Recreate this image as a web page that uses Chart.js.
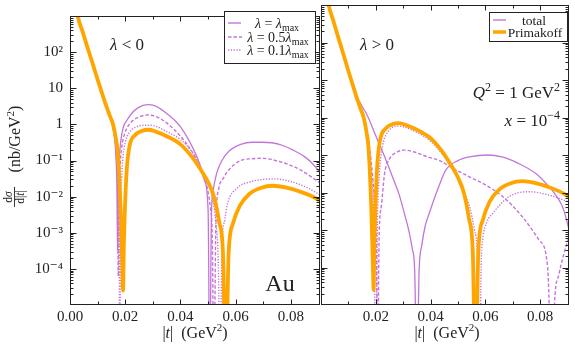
<!DOCTYPE html>
<html>
<head>
<meta charset="utf-8">
<script src="https://cdn.jsdelivr.net/npm/chart.js@4/dist/chart.umd.min.js"></script>
<style>
  html, body { margin: 0; padding: 0; background: #fff; }
  #wrap { position: relative; width: 575px; height: 349px; overflow: hidden; }
  #cl { position: absolute; left: 0; top: 0; }
  #cr { position: absolute; left: 320px; top: 0; }
</style>
</head>
<body>
<div id="wrap">
  <canvas id="cl" width="322" height="349"></canvas>
  <canvas id="cr" width="255" height="349"></canvas>
</div>
<script>
/* ── |t| spectra for Au, lambda < 0 (left) and lambda > 0 (right) ── */

const SERIF = "'Liberation Serif', 'DejaVu Serif', serif";
const PURPLE = '#c376d8';
const ORANGE = '#ffa500';
const INK = '#222';
const X_MAX = 0.0905;

// axis ticks
const yTicks = [1e-4, 1e-3, 1e-2, 1e-1, 1, 10, 100];
const yTickLabels = ['10⁻⁴', '10⁻³', '10⁻²', '10⁻¹', '1', '10', '10²'];
const xTicksLeft = [0, 0.02, 0.04, 0.06, 0.08];
const xTickLabelsLeft = ['0.00', '0.02', '0.04', '0.06', '0.08'];
const xTicksRight = [0.02, 0.04, 0.06, 0.08];
const xTickLabelsRight = ['0.02', '0.04', '0.06', '0.08'];

// Primakoff (same in both panels)
const tPrim = [0.0024, 0.0028, 0.0045, 0.0064, 0.0082, 0.0100, 0.0117, 0.0133, 0.0145, 0.0155,
  0.0165, 0.0172, 0.0178, 0.0183, 0.0187, 0.0190, 0.0192, 0.0195, 0.0199, 0.0205,
  0.0215, 0.0235, 0.0260, 0.0285, 0.0310, 0.0350, 0.0400, 0.0440, 0.0473, 0.0500,
  0.0521, 0.0540, 0.0554, 0.0564, 0.0574, 0.0590, 0.0615, 0.0650, 0.0690, 0.0735,
  0.0780, 0.0830, 0.0870, 0.0905];
const sPrim = [1600, 1000, 380, 129, 48, 17.4, 6.9, 2.95, 1.66, 1.05,
  0.45, 0.2, 0.04, 5e-3, 5e-4, 7.9e-5, 2.5e-5, 5e-4, 5e-3, 0.05,
  0.24, 0.5, 0.66, 0.71, 0.63, 0.47, 0.28, 0.13, 0.056, 0.025,
  0.01, 2e-3, 2.5e-4, 1e-7, 2.5e-4, 1.8e-3, 5.6e-3, 0.012, 0.0174, 0.02,
  0.018, 0.014, 0.0107, 7.8e-3];

// left panel, lambda < 0
const tNegMax = [0.0025, 0.0029, 0.0046, 0.0065, 0.0083, 0.0101, 0.0118, 0.0134, 0.0146, 0.0156,
  0.0163, 0.0167, 0.0170, 0.0172, 0.0174, 0.0178, 0.0184, 0.0192, 0.0205, 0.0223,
  0.0247, 0.0280, 0.0310, 0.0350, 0.0400, 0.0445, 0.0470, 0.0487, 0.0500, 0.0506,
  0.0512, 0.0520, 0.0533, 0.0550, 0.0575, 0.0618, 0.0660, 0.0695, 0.0730, 0.0770,
  0.0810, 0.0850, 0.0880, 0.0905];
const sNegMax = [1600, 1000, 380, 129, 48, 17.4, 6.9, 2.95, 1.58, 0.79,
  0.32, 0.1, 0.016, 3.2e-4, 0.01, 0.1, 0.35, 0.79, 1.26, 2.0,
  2.9, 3.5, 3.2, 2.0, 0.85, 0.22, 0.079, 0.028, 4e-3, 1e-7,
  3.2e-3, 0.018, 0.05, 0.1, 0.18, 0.28, 0.32, 0.32, 0.31, 0.26,
  0.19, 0.126, 0.079, 0.047];

const tNegHalf = [0.0025, 0.0029, 0.0046, 0.0065, 0.0083, 0.0101, 0.0118, 0.0134, 0.0146, 0.0156,
  0.0164, 0.0169, 0.0172, 0.0175, 0.0178, 0.0182, 0.0188, 0.0196, 0.0210, 0.0230,
  0.0255, 0.0280, 0.0310, 0.0350, 0.0400, 0.0445, 0.0461, 0.0480, 0.0497, 0.0508,
  0.0515, 0.0521, 0.0528, 0.0539, 0.0555, 0.0570, 0.0618, 0.0660, 0.0691, 0.0764,
  0.0836, 0.0905];
const sNegHalf = [1600, 1000, 380, 129, 48, 17.4, 6.9, 2.95, 1.58, 0.79,
  0.32, 0.1, 0.016, 6.3e-5, 0.01, 0.079, 0.25, 0.5, 0.89, 1.32,
  1.66, 1.82, 1.66, 1.1, 0.47, 0.16, 0.091, 0.04, 0.0174, 5e-3,
  7.9e-4, 1e-7, 1.6e-3, 0.0174, 0.032, 0.05, 0.1, 0.112, 0.115, 0.091,
  0.054, 0.024];

const tNegTenth = [0.0025, 0.0029, 0.0046, 0.0065, 0.0083, 0.0101, 0.0118, 0.0134, 0.0146, 0.0156,
  0.0165, 0.0171, 0.0175, 0.0178, 0.0180, 0.0183, 0.0187, 0.0192, 0.0200, 0.0215,
  0.0240, 0.0280, 0.0310, 0.0350, 0.0400, 0.0450, 0.0473, 0.0495, 0.0510, 0.0527,
  0.0537, 0.0543, 0.0550, 0.0560, 0.0570, 0.0606, 0.0655, 0.0700, 0.0740, 0.0800,
  0.0850, 0.0905];
const sNegTenth = [1600, 1000, 380, 129, 48, 17.4, 6.9, 2.95, 1.58, 0.79,
  0.35, 0.126, 0.02, 1.6e-3, 1e-7, 2.5e-3, 0.032, 0.126, 0.32, 0.6,
  0.85, 0.95, 0.89, 0.63, 0.38, 0.14, 0.06, 0.028, 0.014, 2.2e-3,
  1.26e-4, 1e-7, 4e-4, 2.2e-3, 6.3e-3, 0.0174, 0.026, 0.03, 0.031, 0.026,
  0.019, 0.0112];

// right panel, lambda > 0
const tPosMax = [0.0025, 0.0029, 0.0046, 0.0065, 0.0083, 0.0101, 0.0118, 0.0134, 0.0150, 0.0171,
  0.0201, 0.0237, 0.0265, 0.0285, 0.0304, 0.0320, 0.0333, 0.0342, 0.0350, 0.0358,
  0.0368, 0.0380, 0.0395, 0.0425, 0.0456, 0.0500, 0.0542, 0.0608, 0.0660, 0.0720,
  0.0784, 0.0833, 0.0860, 0.0881, 0.0895, 0.0905];
const sPosMax = [1600, 1000, 380, 129, 48, 17.4, 6.9, 3.3, 2.0, 1.05,
  0.31, 0.074, 0.022, 8.9e-3, 2.8e-3, 1e-3, 3.2e-4, 7.9e-5, 1e-7, 7.9e-5,
  4e-4, 1.26e-3, 2.8e-3, 0.0117, 0.04, 0.071, 0.089, 0.1, 0.089, 0.06,
  0.032, 0.014, 7.9e-3, 4.2e-3, 2e-3, 1e-3];

const tPosHalf = [0.0025, 0.0029, 0.0046, 0.0065, 0.0083, 0.0101, 0.0118, 0.0134, 0.0145, 0.0155,
  0.0165, 0.0175, 0.0185, 0.0195, 0.0202, 0.0207, 0.0212, 0.0220, 0.0232, 0.0250,
  0.0275, 0.0305, 0.0340, 0.0390, 0.0433, 0.0469, 0.0542, 0.0600, 0.0663, 0.0736,
  0.0796, 0.0827, 0.0843, 0.0852, 0.0869, 0.0887, 0.0905];
const sPosHalf = [1600, 1000, 380, 129, 48, 17.4, 6.9, 2.95, 1.66, 1.0,
  0.5, 0.2, 0.05, 6.3e-3, 6.3e-4, 1e-7, 6.3e-4, 4.2e-3, 0.032, 0.079,
  0.117, 0.135, 0.12, 0.089, 0.071, 0.05, 0.026, 0.016, 7.8e-3, 2.2e-3,
  5.4e-4, 1.05e-4, 1e-7, 1.1e-5, 6.9e-5, 2.4e-4, 6.6e-4];

const tPosTenth = [0.0025, 0.0029, 0.0046, 0.0065, 0.0083, 0.0101, 0.0118, 0.0134, 0.0145, 0.0155,
  0.0165, 0.0175, 0.0185, 0.0193, 0.0200, 0.0206, 0.0213, 0.0225, 0.0245, 0.0280,
  0.0310, 0.0350, 0.0400, 0.0440, 0.0473, 0.0500, 0.0521, 0.0542, 0.0560, 0.0571,
  0.0578, 0.0585, 0.0590, 0.0605, 0.0627, 0.0687, 0.0760, 0.0833, 0.0905];
const sPosTenth = [1600, 1000, 380, 129, 48, 17.4, 6.9, 2.95, 1.66, 1.02,
  0.47, 0.158, 0.025, 1.6e-3, 1e-7, 1.6e-3, 0.032, 0.178, 0.42, 0.59,
  0.54, 0.4, 0.234, 0.112, 0.05, 0.022, 0.01, 4.2e-3, 1e-3, 1.6e-4,
  1e-7, 1.6e-4, 5.4e-4, 1.6e-3, 2.8e-3, 7.8e-3, 0.0105, 8.5e-3, 5.6e-3];


const it = s => `italic ${s}px ${SERIF}`;
const rm = s => `${s}px ${SERIF}`;

function pts(ts, vs) {
  return ts.map((t, i) => ({ x: t, y: vs[i] }));
}

function curve(data, color, width, dash) {
  return {
    data: data,
    borderColor: color,
    borderWidth: width,
    borderDash: dash || [],
    pointRadius: 0,
    fill: false,
    cubicInterpolationMode: 'monotone',
    clip: 0,
  };
}

// draw a row of text pieces (different fonts / raised bits)
function runs(c, parts, x, y, align) {
  let w = 0;
  parts.forEach(p => { c.font = p.f; w += c.measureText(p.t).width; });
  let cx = align === 'center' ? x - w / 2 : align === 'right' ? x - w : x;
  c.textAlign = 'left';
  c.textBaseline = 'alphabetic';
  parts.forEach(p => {
    c.font = p.f;
    c.fillText(p.t, cx, y + (p.dy || 0));
    cx += c.measureText(p.t).width;
  });
}

function drawFrame(chart) {
  const { ctx: c, chartArea: a, scales: { x, y } } = chart;
  c.save();
  c.strokeStyle = INK;
  c.lineWidth = 1;
  const L = Math.round(a.left) + 0.5, R = Math.round(a.right) - 0.5;
  const T = Math.round(a.top) + 0.5, B = Math.round(a.bottom) - 0.5;
  c.strokeRect(L, T, R - L, B - T);
  c.beginPath();
  for (let k = 1; k <= 9; k++) {
    const px = Math.round(x.getPixelForValue(k * 0.01)) + 0.5;
    const len = k % 2 === 0 ? 5 : 3;
    c.moveTo(px, B); c.lineTo(px, B - len);
    c.moveTo(px, T); c.lineTo(px, T + len);
  }
  for (let e = -5; e <= 2; e++) {
    for (let m = 1; m <= 9; m++) {
      const v = m * Math.pow(10, e);
      if (v <= 1e-5 * 1.0001 || v >= 1e3 * 0.9999) continue;
      const py = Math.round(y.getPixelForValue(v)) + 0.5;
      const len = m === 1 ? 6 : 3;
      c.moveTo(L, py); c.lineTo(L + len, py);
      c.moveTo(R, py); c.lineTo(R - len, py);
    }
  }
  c.stroke();
  c.restore();
}

function legendBox(c, box, rows) {
  c.save();
  c.fillStyle = '#fff';
  c.fillRect(box.x, box.y, box.w, box.h);
  c.strokeStyle = INK;
  c.lineWidth = 1;
  c.strokeRect(box.x + 0.5, box.y + 0.5, box.w, box.h);
  rows.forEach(r => {
    c.beginPath();
    c.strokeStyle = r.color;
    c.lineWidth = r.width;
    c.setLineDash(r.dash);
    c.moveTo(box.x + 4, r.y);
    c.lineTo(box.x + 4 + r.len, r.y);
    c.stroke();
    c.setLineDash([]);
    c.fillStyle = INK;
    runs(c, r.text, r.tx, r.y + 5, 'center');
  });
  c.restore();
}

function xTitle(c, cx) {
  c.fillStyle = INK;
  runs(c, [
    { t: '|', f: rm(16) }, { t: 't', f: it(16) }, { t: '|  (GeV', f: rm(16) },
    { t: '2', f: rm(11), dy: -7 }, { t: ')', f: rm(16) },
  ], cx, 338, 'center');
}

const lam = s => [
  { t: 'λ', f: it(14) }, { t: ' = ' + s, f: rm(14) },
  { t: 'λ', f: it(14) }, { t: 'max', f: rm(10), dy: 3 },
];

const leftDecor = {
  id: 'leftDecor',
  afterDraw(chart) {
    const c = chart.ctx;
    drawFrame(chart);
    c.save();
    c.fillStyle = INK;
    // y title, rotated
    c.save();
    c.translate(14, 155);
    c.rotate(-Math.PI / 2);
    runs(c, [{ t: '(nb/GeV', f: rm(16) }, { t: '2', f: rm(11), dy: -6 }, { t: ')', f: rm(16) }], 16, 6, 'center');
    runs(c, [{ t: 'd', f: rm(11.5) }, { t: 'σ', f: it(11.5) }], -42, -2, 'center');
    runs(c, [{ t: 'd|', f: rm(11.5) }, { t: 't', f: it(11.5) }, { t: '|', f: rm(11.5) }], -42, 9.5, 'center');
    c.fillRect(-52, 0, 20, 0.9);
    c.restore();
    xTitle(c, 195);
    runs(c, [{ t: 'λ', f: it(17) }, { t: ' < 0', f: rm(17) }], 127, 50, 'center');
    runs(c, [{ t: 'Au', f: rm(24) }], 280, 291, 'center');
    legendBox(c, { x: 224, y: 11, w: 91, h: 52 }, [
      { y: 23, color: PURPLE, width: 1.4, dash: [], len: 13, text: lam(''), tx: 277 },
      { y: 37, color: PURPLE, width: 1.4, dash: [3.5, 2], len: 14, text: lam('0.5'), tx: 278 },
      { y: 50, color: PURPLE, width: 1.4, dash: [1.3, 1.5], len: 14, text: lam('0.1'), tx: 278 },
    ]);
    c.restore();
  }
};

const rightDecor = {
  id: 'rightDecor',
  afterDraw(chart) {
    const c = chart.ctx;
    drawFrame(chart);
    c.save();
    c.fillStyle = INK;
    xTitle(c, 127);
    runs(c, [{ t: 'λ', f: it(17) }, { t: ' > 0', f: rm(17) }], 57, 50, 'center');
    runs(c, [
      { t: 'Q', f: it(17) }, { t: '2', f: rm(12), dy: -7 },
      { t: ' = 1 GeV', f: rm(17) }, { t: '2', f: rm(12), dy: -7 },
    ], 240, 98, 'right');
    runs(c, [{ t: 'x', f: it(17) }, { t: ' = 10', f: rm(17) }, { t: '−4', f: rm(12), dy: -7 }], 240, 126, 'right');
    legendBox(c, { x: 169, y: 12, w: 78, h: 29 }, [
      { y: 20, color: PURPLE, width: 1.4, dash: [], len: 13, text: [{ t: 'total', f: rm(13.5) }], tx: 214 },
      { y: 32, color: ORANGE, width: 3.5, dash: [], len: 13, text: [{ t: 'Primakoff', f: rm(13.5) }], tx: 215 },
    ]);
    c.restore();
  }
};

function panel(canvasId, datasets, xTicks, xLabels, showY, padding, decor) {
  return new Chart(document.getElementById(canvasId), {
    type: 'line',
    data: { datasets: datasets },
    options: {
      responsive: false,
      animation: false,
      events: [],
      layout: { padding: padding },
      plugins: { legend: { display: false }, tooltip: { enabled: false } },
      scales: {
        x: {
          type: 'linear',
          min: 0,
          max: X_MAX,
          grid: { display: false, drawTicks: false },
          border: { display: false },
          ticks: {
            autoSkip: false,
            maxRotation: 0,
            padding: 3,
            color: INK,
            font: { family: SERIF, size: 15 },
            callback: (v, i) => xLabels[i],
          },
          afterBuildTicks: (s) => { s.ticks = xTicks.map(v => ({ value: v })); },
          afterFit: (s) => { s.height = 44; },
        },
        y: {
          type: 'logarithmic',
          display: showY,
          min: 1e-5,
          max: 1e3,
          grid: { display: false, drawTicks: false },
          border: { display: false },
          ticks: {
            autoSkip: false,
            padding: 7,
            color: INK,
            font: { family: SERIF, size: 15 },
            callback: (v, i) => yTickLabels[i],
          },
          afterBuildTicks: (s) => { s.ticks = yTicks.map(v => ({ value: v })); },
          afterFit: (s) => { s.width = showY ? 70 : 0; },
        },
      },
    },
    plugins: [decor],
  });
}

// orange first so it is drawn on top
panel('cl', [
  curve(pts(tPrim, sPrim), ORANGE, 3.8),
  curve(pts(tNegMax, sNegMax), PURPLE, 1.3),
  curve(pts(tNegHalf, sNegHalf), PURPLE, 1.4, [3.5, 2]),
  curve(pts(tNegTenth, sNegTenth), PURPLE, 1.4, [1.3, 1.5]),
], xTicksLeft, xTickLabelsLeft, true, { left: 0, right: 2, top: 5, bottom: 0 }, leftDecor);

panel('cr', [
  curve(pts(tPrim, sPrim), ORANGE, 3.8),
  curve(pts(tPosMax, sPosMax), PURPLE, 1.3),
  curve(pts(tPosHalf, sPosHalf), PURPLE, 1.4, [3.5, 2]),
  curve(pts(tPosTenth, sPosTenth), PURPLE, 1.4, [1.3, 1.5]),
], xTicksRight, xTickLabelsRight, false, { left: 1, right: 6, top: 5, bottom: 0 }, rightDecor);
</script>
</body>
</html>
